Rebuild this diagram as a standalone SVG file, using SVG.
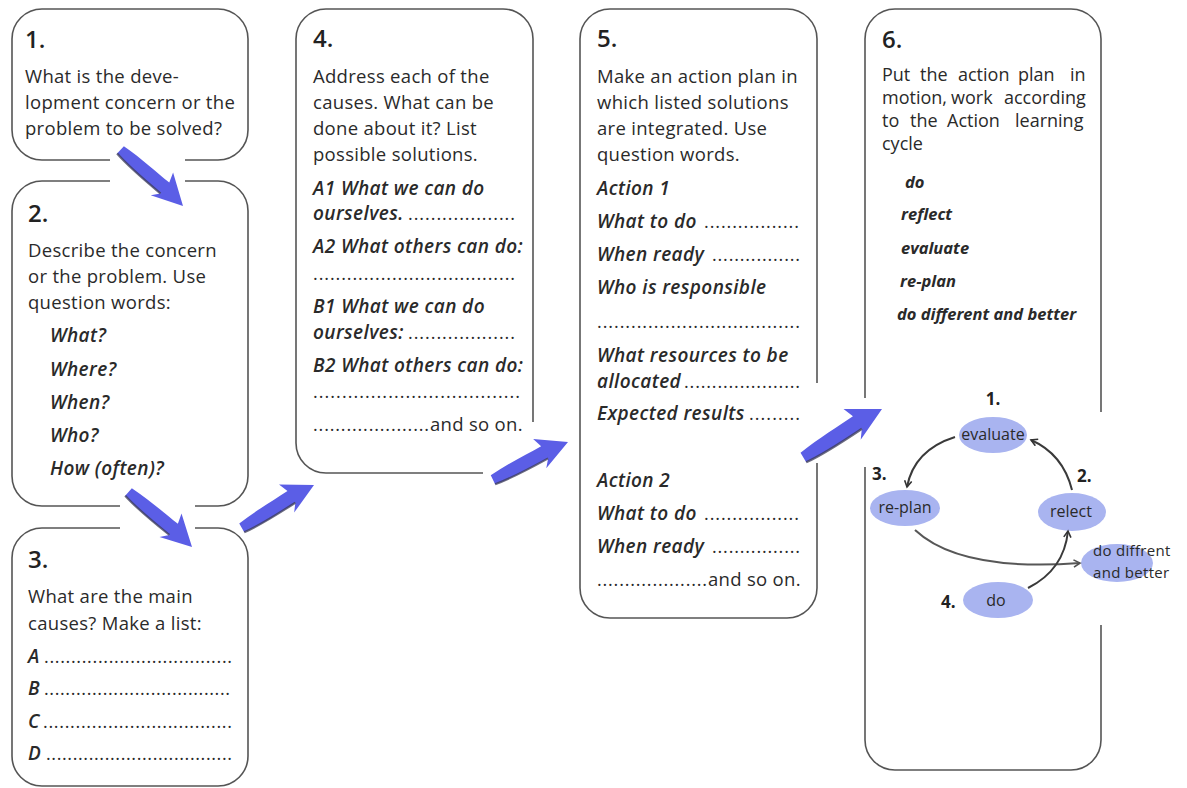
<svg xmlns="http://www.w3.org/2000/svg" xmlns:xlink="http://www.w3.org/1999/xlink" width="1187" height="788" viewBox="0 0 1187 788">
<style>
.box{fill:none;stroke:#555;stroke-width:1.6}
.t{font-family:"Open Sans","Noto Sans",sans-serif;font-size:18.5px;letter-spacing:0.3px;fill:#2a2a2a}
.j{font-family:"Open Sans","Noto Sans",sans-serif;font-size:18px;fill:#2a2a2a}
.h{font-family:"Open Sans","Noto Sans",sans-serif;font-size:24px;font-weight:600;fill:#222}
.i{font-family:"Open Sans","Noto Sans",sans-serif;font-size:19px;letter-spacing:0.4px;font-style:italic;font-weight:600;fill:#2a2a2a}
.s{font-family:"Open Sans","Noto Sans",sans-serif;font-size:16.5px;font-style:italic;font-weight:700;fill:#2a2a2a}
.d{font-family:"Open Sans","Noto Sans",sans-serif;font-size:18px;fill:#2a2a2a}
.c{font-family:"Open Sans","Noto Sans",sans-serif;font-size:16px;fill:#2a2a2a}
.c2{font-family:"Open Sans","Noto Sans",sans-serif;font-size:15px;letter-spacing:0.3px;fill:#2a2a2a}
.n{font-family:"Open Sans","Noto Sans",sans-serif;font-size:17px;font-weight:700;fill:#222}
.el{fill:#a9b4f0}
.ca{fill:none;stroke:#3a3a3a;stroke-width:2}
.big{fill:#5b5ee6}
.sh{fill:none;stroke:#3b3b55;stroke-width:2.2;opacity:0.75}
</style>
<defs>
<g id="barrow">
<path class="big" d="M -84 -4 C -62 -7 -42 -7 -26 -8 L -30 -18 L 0 0 L -31 14 L -25 6 C -46 7 -66 8 -84 6 Z"/>
<path class="sh" d="M -84 6 C -66 8 -46 7 -25 6"/>
</g>
<marker id="ah" viewBox="0 0 10 10" refX="8" refY="5" markerWidth="9" markerHeight="9" orient="auto" markerUnits="userSpaceOnUse">
<path d="M1 1 L8 5 L1 9" fill="none" stroke="#333" stroke-width="1.8"/>
</marker>
</defs>

<g id="node1">
<path class="box" d="M 110 160 L 42 160 A 30 30 0 0 1 12 130 L 12 39 A 30 30 0 0 1 42 9 L 218 9 A 30 30 0 0 1 248 39 L 248 130 A 30 30 0 0 1 218 160 L 185 160"/>
<text class="h" x="25" y="48">1.</text>
<text class="t" x="25" y="83">What is the deve-</text>
<text class="t" x="25" y="109">lopment concern or the</text>
<text class="t" x="25" y="135">problem to be solved?</text>
</g>

<g id="node2">
<path class="box" d="M 185 181 L 218 181 A 30 30 0 0 1 248 211 L 248 476 A 30 30 0 0 1 218 506 L 195 506 M 120 506 L 42 506 A 30 30 0 0 1 12 476 L 12 211 A 30 30 0 0 1 42 181 L 110 181"/>
<text class="h" x="28" y="222">2.</text>
<text class="t" x="28" y="257">Describe the concern</text>
<text class="t" x="28" y="283">or the problem. Use</text>
<text class="t" x="28" y="309">question words:</text>
<text class="i" x="50" y="342">What?</text>
<text class="i" x="50" y="376">Where?</text>
<text class="i" x="50" y="409">When?</text>
<text class="i" x="50" y="442">Who?</text>
<text class="i" x="50" y="475">How (often)?</text>
</g>

<g id="node3">
<path class="box" d="M 195 528 L 218 528 A 30 30 0 0 1 248 558 L 248 756 A 30 30 0 0 1 218 786 L 42 786 A 30 30 0 0 1 12 756 L 12 558 A 30 30 0 0 1 42 528 L 120 528"/>
<text class="h" x="28" y="568">3.</text>
<text class="t" x="28" y="603">What are the main</text>
<text class="t" x="28" y="630">causes? Make a list:</text>
<text class="i" x="28" y="663">A</text><text class="d" x="44" y="663" textLength="188" lengthAdjust="spacing">...................................</text>
<text class="i" x="28" y="695">B</text><text class="d" x="44" y="695" textLength="186" lengthAdjust="spacing">...................................</text>
<text class="i" x="28" y="728">C</text><text class="d" x="43" y="728" textLength="189" lengthAdjust="spacing">...................................</text>
<text class="i" x="28" y="760">D</text><text class="d" x="46" y="760" textLength="186" lengthAdjust="spacing">...................................</text>
</g>

<g id="node4">
<path class="box" d="M 533 422 L 533 39 A 30 30 0 0 0 503 9 L 326 9 A 30 30 0 0 0 296 39 L 296 443 A 30 30 0 0 0 326 473 L 483 473"/>
<text class="h" x="313" y="47">4.</text>
<text class="t" x="313" y="83">Address each of the</text>
<text class="t" x="313" y="109">causes. What can be</text>
<text class="t" x="313" y="135">done about it? List</text>
<text class="t" x="313" y="161">possible solutions.</text>
<text class="i" x="313" y="195">A1 What we can do</text>
<text class="i" x="313" y="220">ourselves.</text><text class="d" x="408" y="220" textLength="107" lengthAdjust="spacing">...................</text>
<text class="i" x="313" y="253">A2 What others can do:</text>
<text class="d" x="313" y="280" textLength="202" lengthAdjust="spacing">....................................</text>
<text class="i" x="313" y="313">B1 What we can do</text>
<text class="i" x="313" y="339">ourselves:</text><text class="d" x="408" y="339" textLength="107" lengthAdjust="spacing">...................</text>
<text class="i" x="313" y="372">B2 What others can do:</text>
<text class="d" x="313" y="398" textLength="207" lengthAdjust="spacing">....................................</text>
<text class="d" x="313" y="431" textLength="116" lengthAdjust="spacing">.....................</text><text class="t" x="430" y="431">and so on.</text>
</g>

<g id="node5">
<path class="box" d="M 817 383 L 817 39 A 30 30 0 0 0 787 9 L 610 9 A 30 30 0 0 0 580 39 L 580 588 A 30 30 0 0 0 610 618 L 787 618 A 30 30 0 0 0 817 588 L 817 463"/>
<text class="h" x="597" y="47">5.</text>
<text class="t" x="597" y="83">Make an action plan in</text>
<text class="t" x="597" y="109">which listed solutions</text>
<text class="t" x="597" y="135">are integrated. Use</text>
<text class="t" x="597" y="161">question words.</text>
<text class="i" x="597" y="195">Action 1</text>
<text class="i" x="597" y="228">What to do</text><text class="d" x="704" y="228" textLength="95" lengthAdjust="spacing">.................</text>
<text class="i" x="597" y="261">When ready</text><text class="d" x="712" y="261" textLength="88" lengthAdjust="spacing">................</text>
<text class="i" x="597" y="294">Who is responsible</text>
<text class="d" x="597" y="328" textLength="203" lengthAdjust="spacing">....................................</text>
<text class="i" x="597" y="362">What resources to be</text>
<text class="i" x="597" y="388">allocated</text><text class="d" x="684" y="388" textLength="116" lengthAdjust="spacing">.....................</text>
<text class="i" x="597" y="420">Expected results</text><text class="d" x="749" y="420" textLength="51" lengthAdjust="spacing">.........</text>
<text class="i" x="597" y="487">Action 2</text>
<text class="i" x="597" y="520">What to do</text><text class="d" x="704" y="520" textLength="95" lengthAdjust="spacing">.................</text>
<text class="i" x="597" y="553">When ready</text><text class="d" x="712" y="553" textLength="88" lengthAdjust="spacing">................</text>
<text class="d" x="597" y="586" textLength="110" lengthAdjust="spacing">....................</text><text class="t" x="708" y="586">and so on.</text>
</g>

<g id="node6">
<path class="box" d="M 865 398 L 865 39 A 30 30 0 0 1 895 9 L 1071 9 A 30 30 0 0 1 1101 39 L 1101 412 M 1101 625 L 1101 740 A 30 30 0 0 1 1071 770 L 895 770 A 30 30 0 0 1 865 740 L 865 467"/>
<text class="h" x="882" y="48">6.</text>
<text class="j" y="81"><tspan x="882">Put</tspan><tspan x="920">the</tspan><tspan x="958">action</tspan><tspan x="1018">plan</tspan><tspan x="1070">in</tspan></text>
<text class="j" y="104"><tspan x="882">motion,</tspan><tspan x="951">work</tspan><tspan x="1004">according</tspan></text>
<text class="j" y="127"><tspan x="882">to</tspan><tspan x="910">the</tspan><tspan x="947">Action</tspan><tspan x="1015">learning</tspan></text>
<text class="j" x="882" y="150">cycle</text>
<text class="s" x="905" y="188">do</text>
<text class="s" x="901" y="220">reflect</text>
<text class="s" x="901" y="254">evaluate</text>
<text class="s" x="900" y="287">re-plan</text>
<text class="s" x="897" y="320">do different and better</text>
</g>

<g id="cycle-evaluate">
<ellipse class="el" cx="993" cy="435" rx="34" ry="18"/>
<text class="c" x="993" y="440" text-anchor="middle">evaluate</text>
<text class="n" x="993" y="405" text-anchor="middle">1.</text>
</g>
<g id="cycle-relect">
<ellipse class="el" cx="1072" cy="512" rx="34" ry="19"/>
<text class="c" x="1071" y="517" text-anchor="middle">relect</text>
<text class="n" x="1077" y="482">2.</text>
</g>
<g id="cycle-replan">
<ellipse class="el" cx="905" cy="508" rx="35" ry="18"/>
<text class="c" x="905" y="513" text-anchor="middle">re-plan</text>
<text class="n" x="872" y="480">3.</text>
</g>
<g id="cycle-do">
<ellipse class="el" cx="998" cy="600" rx="35" ry="18"/>
<text class="c" x="996" y="606" text-anchor="middle">do</text>
<text class="n" x="941" y="608">4.</text>
</g>
<g id="cycle-better">
<ellipse class="el" cx="1117" cy="563" rx="36" ry="19"/>
<text class="c2" x="1093" y="556">do diffrent</text>
<text class="c2" x="1093" y="578">and better</text>
</g>

<g id="connectors">
<use xlink:href="#barrow" transform="translate(183,206) rotate(42.6)"/>
<use xlink:href="#barrow" transform="translate(192,547) rotate(41.6)"/>
<use xlink:href="#barrow" transform="translate(314,485) rotate(-30)"/>
<use xlink:href="#barrow" transform="translate(568,442) rotate(-26)"/>
<use xlink:href="#barrow" transform="translate(882,409) rotate(-31) scale(1.1)"/>
<path class="ca" d="M 955 437 Q 914 450 907 487" marker-end="url(#ah)"/>
<path class="ca" d="M 1072 490 Q 1063 454 1031 440" marker-end="url(#ah)"/>
<path class="ca" d="M 915 530 Q 960 572 1080 563" marker-end="url(#ah)" opacity="0.85"/>
<path class="ca" d="M 1028 588 Q 1064 570 1068 531" marker-end="url(#ah)"/>
</g>
</svg>
